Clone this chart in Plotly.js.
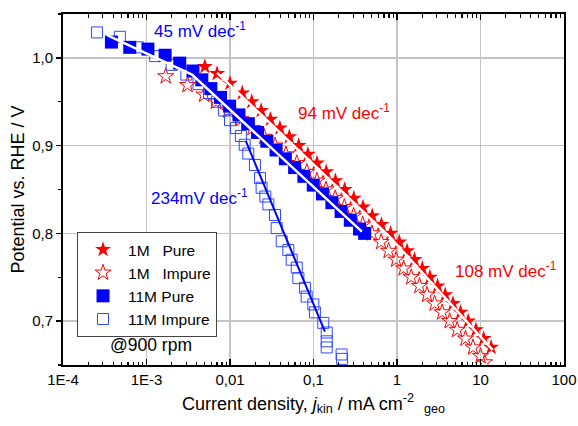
<!DOCTYPE html>
<html>
<head>
<meta charset="utf-8">
<script src="https://cdn.plot.ly/plotly-3.0.1.min.js"></script>
<style>html,body{margin:0;padding:0;background:#fff;}#chart{width:578px;height:426px;}</style>
</head>
<body>
<div id="chart"></div>
<script>
// ---- data ----
// 1M Pure (filled red stars)
const pure1M_j = [0.0050,0.0070,0.0100,0.0140,0.0182,0.0236,0.0305,0.0396,0.0513,0.0665,0.0857,0.110,0.142,0.183,0.236,0.304,0.392,0.505,0.650,0.838,1.065,1.32,1.62,2.01,2.48,3.06,3.78,4.68,5.77,7.13,8.81,10.9,13.4];
const pure1M_E = [0.990,0.982,0.971,0.960,0.950,0.940,0.930,0.920,0.910,0.900,0.890,0.880,0.870,0.860,0.850,0.840,0.830,0.820,0.810,0.800,0.790,0.780,0.770,0.760,0.750,0.740,0.730,0.720,0.710,0.700,0.690,0.680,0.670];
// 1M Impure (open red stars)
const imp1M_j = [0.0017,0.0031,0.0049,0.0068,0.0095,0.0135,0.0186,0.0257,0.0347,0.0468,0.0631,0.0832,0.110,0.141,0.182,0.234,0.302,0.389,0.501,0.646,0.794,0.977,1.20,1.48,1.86,2.29,2.82,3.47,4.27,5.25,6.61,8.13,10.0,11.2];
const imp1M_E = [0.979,0.969,0.958,0.950,0.940,0.930,0.920,0.910,0.900,0.890,0.880,0.870,0.860,0.850,0.840,0.830,0.820,0.810,0.800,0.790,0.780,0.770,0.760,0.750,0.740,0.730,0.720,0.710,0.700,0.690,0.680,0.670,0.660,0.653];
// 11M Pure (filled blue squares)
const pure11M_j = [0.00038,0.00063,0.00104,0.00167,0.0025,0.0036,0.0046,0.0059,0.0077,0.0099,0.0128,0.0166,0.0214,0.0276,0.0356,0.0460,0.0594,0.0767,0.0993,0.128,0.166,0.214,0.276,0.356,0.41];
const pure11M_E = [1.018,1.012,1.010,1.003,0.994,0.985,0.975,0.965,0.955,0.945,0.935,0.925,0.915,0.905,0.895,0.885,0.875,0.865,0.855,0.845,0.835,0.825,0.815,0.805,0.800];
// 11M Impure (open blue squares)
const imp11M_j = [0.000255,0.00048,0.00079,0.00127,0.0020,0.0030,0.0042,0.0056,0.0070,0.0085,0.0100,0.0118,0.0135,0.0150,0.01656,0.0199,0.0229,0.0239,0.0265,0.0288,0.0346,0.0362,0.0416,0.050,0.0548,0.063,0.0659,0.079,0.0828,0.0995,0.104,0.131,0.144,0.144,0.144,0.217,0.220];
const imp11M_E = [1.029,1.024,1.012,1.002,0.992,0.981,0.970,0.960,0.950,0.940,0.929,0.920,0.911,0.901,0.891,0.878,0.863,0.852,0.842,0.833,0.821,0.806,0.791,0.781,0.770,0.761,0.749,0.738,0.728,0.719,0.710,0.698,0.687,0.677,0.670,0.662,0.657];
// Tafel fit lines
const fit1M_j = [0.007, 0.8, 14];
const fit1M_E = [0.983, 0.797, 0.667];
const fit11M_j = [0.000337, 0.0035, 0.38];
const fit11M_E = [1.026, 0.981, 0.802];
const fit11Mimp_j = [0.0155, 0.137];
const fit11Mimp_E = [0.905, 0.688];
// axis labels
const xTickVals = [1e-4, 1e-3, 0.01, 0.1, 1, 10, 100];
const xTickText = ['1E-4', '1E-3', '0,01', '0,1', '1', '10', '100'];
const yTickVals = [0.7, 0.8, 0.9, 1.0];
const yTickText = ['0,7', '0,8', '0,9', '1,0'];
const yMinorVals = [0.65, 0.75, 0.85, 0.95, 1.05];

const xMinorVals = [];
for (let d = -4; d < 2; d++) for (let k = 2; k <= 9; k++) xMinorVals.push(k * Math.pow(10, d));

const RED = '#ff0000', BLUE = '#0000ff', BLUE2 = '#2f48ff';
const FONT = 'Arial, "Liberation Sans", sans-serif';
const nb = '\u00A0';

const traces = [
  {x: pure1M_j, y: pure1M_E, mode: 'markers', name: '1M' + nb + nb + nb + 'Pure', legendrank: 1,
   marker: {symbol: 'star', size: 12, color: RED, line: {width: 0}}},
  {x: imp1M_j, y: imp1M_E, mode: 'markers', name: '1M' + nb + nb + nb + 'Impure', legendrank: 2,
   marker: {symbol: 'star-open', size: 12, color: RED, line: {width: 1}}},
  {x: fit1M_j, y: fit1M_E, mode: 'lines', showlegend: false, hoverinfo: 'skip',
   line: {color: 'white', width: 2.5}},
  {x: imp11M_j, y: imp11M_E, mode: 'markers', name: '11M Impure', legendrank: 4,
   marker: {symbol: 'square-open', size: 11, color: BLUE2, line: {width: 1}}},
  {x: pure11M_j, y: pure11M_E, mode: 'markers', name: '11M Pure', legendrank: 3,
   marker: {symbol: 'square', size: 13, color: BLUE, line: {width: 0}}},
  {x: fit11M_j, y: fit11M_E, mode: 'lines', showlegend: false, hoverinfo: 'skip',
   line: {color: 'white', width: 2.5}},
  {x: fit11Mimp_j, y: fit11Mimp_E, mode: 'lines', showlegend: false, hoverinfo: 'skip',
   line: {color: BLUE, width: 2}}
];

const ann = (text, x, y, color) => ({text: text, xref: 'paper', yref: 'paper', x: x, y: y,
  xanchor: 'left', yanchor: 'middle', showarrow: false, font: {family: FONT, size: 17, color: color}});

const layout = {
  width: 578, height: 426,
  margin: {l: 63, r: 14, t: 14, b: 61},
  paper_bgcolor: 'white', plot_bgcolor: 'white',
  font: {family: FONT, color: '#000'},
  showlegend: true,
  legend: {x: 0.028, y: 0.379, xanchor: 'left', yanchor: 'top', bgcolor: 'white',
    bordercolor: '#444', borderwidth: 1, font: {family: FONT, size: 15.5, color: '#000'},
    traceorder: 'normal', tracegroupgap: 0, itemwidth: 40},
  xaxis: {type: 'log', range: [-4, 2], tickmode: 'array', tickvals: xTickVals, ticktext: xTickText,
    ticks: 'inside', ticklen: 6, tickwidth: 1.5, tickcolor: '#000', mirror: 'allticks',
    showline: true, linecolor: '#000', linewidth: 2,
    showgrid: true, gridcolor: '#c4c4c4', gridwidth: 1.3, zeroline: false,
    tickfont: {family: FONT, size: 15},
    minor: {tickmode: 'array', tickvals: xMinorVals, ticks: 'inside', ticklen: 3.5, tickwidth: 1.2, tickcolor: '#000', showgrid: false},
    title: {text: 'Current density, <i>j</i><sub>kin</sub> / mA cm<sup>-2</sup>  <sub>geo</sub>',
      font: {family: FONT, size: 18}, standoff: 10}},
  yaxis: {range: [0.65, 1.05], tickmode: 'array', tickvals: yTickVals, ticktext: yTickText,
    ticks: 'outside', ticklen: 5, tickwidth: 1.5, tickcolor: '#000', mirror: true,
    showline: true, linecolor: '#000', linewidth: 2,
    showgrid: true, gridcolor: '#c4c4c4', gridwidth: 1.3, zeroline: false,
    tickfont: {family: FONT, size: 15},
    minor: {tickmode: 'array', tickvals: yMinorVals, ticks: 'outside', ticklen: 3, tickwidth: 1.2, tickcolor: '#000', showgrid: false},
    title: {text: 'Potential vs. RHE / V', font: {family: FONT, size: 18}, standoff: 3}},
  yaxis2: {overlaying: 'y', side: 'right', range: [0.65, 1.05], tickmode: 'array', tickvals: yTickVals,
    showticklabels: false, ticks: 'inside', ticklen: 5, tickwidth: 1.5, tickcolor: '#000',
    showline: false, showgrid: false, zeroline: false,
    minor: {tickmode: 'array', tickvals: yMinorVals, ticks: 'inside', ticklen: 3, tickwidth: 1.2, tickcolor: '#000', showgrid: false}},
  annotations: [
    ann('45 mV dec<sup>-1</sup>', 0.178, 0.953, BLUE),
    ann('94 mV dec<sup>-1</sup>', 0.466, 0.72, RED),
    ann('234mV dec<sup>-1</sup>', 0.172, 0.48, BLUE),
    ann('108 mV dec<sup>-1</sup>', 0.778, 0.272, RED),
    {text: '@900 rpm', xref: 'paper', yref: 'paper', x: 0.09, y: 0.057, xanchor: 'left', yanchor: 'middle',
     showarrow: false, font: {family: FONT, size: 17.5, color: '#000'}}
  ]
};

Plotly.newPlot('chart', traces, layout, {staticPlot: true, displayModeBar: false});
</script>
</body>
</html>
